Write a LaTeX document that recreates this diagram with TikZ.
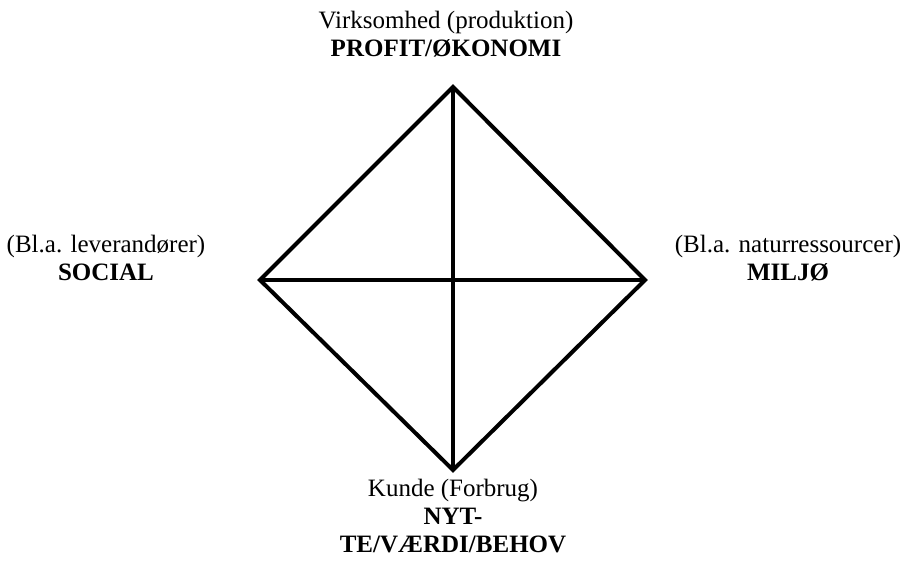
\documentclass[tikz,border=0pt]{standalone}
\usepackage{fontspec}
\setmainfont{Liberation Serif}
\begin{document}
\begin{tikzpicture}[x=1pt,y=-1pt,
  edge/.style={line width=4pt,line join=miter},
  lbl/.style={align=center,font=\fontsize{25}{28}\selectfont,inner sep=0pt}]
\useasboundingbox (0,0) rectangle (905,571);
\coordinate (T) at (453,87);
\coordinate (L) at (260,280);
\coordinate (R) at (645,280);
\coordinate (B) at (453,470);
\draw[edge] (T) -- (R) -- (B) -- (L) -- cycle;
\draw[edge] (T) -- (B);
\draw[edge] (L) -- (R);
\node[lbl] (top) at (446,34) {Virksomhed (produktion)\\\textbf{PROFIT/ØKONOMI}};
\node[lbl] (left) at (106,258) {(Bl.a. leverandører)\\\textbf{SOCIAL}};
\node[lbl] (right) at (788,258) {(Bl.a. naturressourcer)\\\textbf{MILJØ}};
\node[lbl] (bot) at (453,516) {Kunde (Forbrug)\\\textbf{NYT-}\\\textbf{TE/VÆRDI/BEHOV}};
\end{tikzpicture}
\end{document}
